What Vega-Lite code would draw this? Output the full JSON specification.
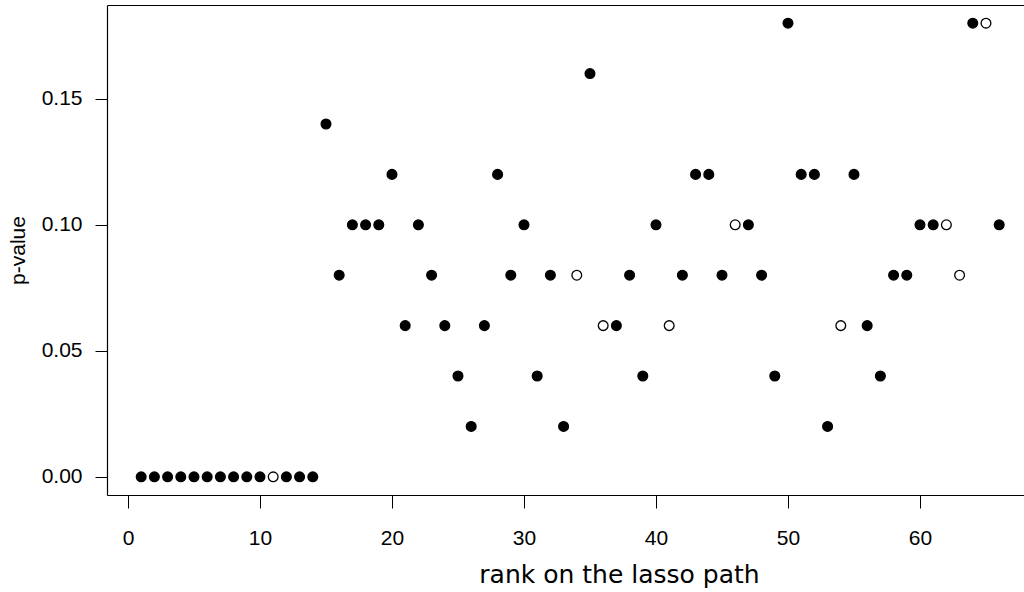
{
  "$schema": "https://vega.github.io/schema/vega-lite/v6.json",
  "width": 917,
  "height": 490,
  "autosize": "none",
  "padding": {"left": 107, "top": 5, "right": 0, "bottom": 97},
  "background": "white",
  "config": {"view": {"stroke": null}},
  "data": {"values": [
    {"rank": 1, "pvalue": 0, "type": "filled"},
    {"rank": 2, "pvalue": 0, "type": "filled"},
    {"rank": 3, "pvalue": 0, "type": "filled"},
    {"rank": 4, "pvalue": 0, "type": "filled"},
    {"rank": 5, "pvalue": 0, "type": "filled"},
    {"rank": 6, "pvalue": 0, "type": "filled"},
    {"rank": 7, "pvalue": 0, "type": "filled"},
    {"rank": 8, "pvalue": 0, "type": "filled"},
    {"rank": 9, "pvalue": 0, "type": "filled"},
    {"rank": 10, "pvalue": 0, "type": "filled"},
    {"rank": 11, "pvalue": 0, "type": "open"},
    {"rank": 12, "pvalue": 0, "type": "filled"},
    {"rank": 13, "pvalue": 0, "type": "filled"},
    {"rank": 14, "pvalue": 0, "type": "filled"},
    {"rank": 15, "pvalue": 0.14, "type": "filled"},
    {"rank": 16, "pvalue": 0.08, "type": "filled"},
    {"rank": 17, "pvalue": 0.10, "type": "filled"},
    {"rank": 18, "pvalue": 0.10, "type": "filled"},
    {"rank": 19, "pvalue": 0.10, "type": "filled"},
    {"rank": 20, "pvalue": 0.12, "type": "filled"},
    {"rank": 21, "pvalue": 0.06, "type": "filled"},
    {"rank": 22, "pvalue": 0.10, "type": "filled"},
    {"rank": 23, "pvalue": 0.08, "type": "filled"},
    {"rank": 24, "pvalue": 0.06, "type": "filled"},
    {"rank": 25, "pvalue": 0.04, "type": "filled"},
    {"rank": 26, "pvalue": 0.02, "type": "filled"},
    {"rank": 27, "pvalue": 0.06, "type": "filled"},
    {"rank": 28, "pvalue": 0.12, "type": "filled"},
    {"rank": 29, "pvalue": 0.08, "type": "filled"},
    {"rank": 30, "pvalue": 0.10, "type": "filled"},
    {"rank": 31, "pvalue": 0.04, "type": "filled"},
    {"rank": 32, "pvalue": 0.08, "type": "filled"},
    {"rank": 33, "pvalue": 0.02, "type": "filled"},
    {"rank": 34, "pvalue": 0.08, "type": "open"},
    {"rank": 35, "pvalue": 0.16, "type": "filled"},
    {"rank": 36, "pvalue": 0.06, "type": "open"},
    {"rank": 37, "pvalue": 0.06, "type": "filled"},
    {"rank": 38, "pvalue": 0.08, "type": "filled"},
    {"rank": 39, "pvalue": 0.04, "type": "filled"},
    {"rank": 40, "pvalue": 0.10, "type": "filled"},
    {"rank": 41, "pvalue": 0.06, "type": "open"},
    {"rank": 42, "pvalue": 0.08, "type": "filled"},
    {"rank": 43, "pvalue": 0.12, "type": "filled"},
    {"rank": 44, "pvalue": 0.12, "type": "filled"},
    {"rank": 45, "pvalue": 0.08, "type": "filled"},
    {"rank": 46, "pvalue": 0.10, "type": "open"},
    {"rank": 47, "pvalue": 0.10, "type": "filled"},
    {"rank": 48, "pvalue": 0.08, "type": "filled"},
    {"rank": 49, "pvalue": 0.04, "type": "filled"},
    {"rank": 50, "pvalue": 0.18, "type": "filled"},
    {"rank": 51, "pvalue": 0.12, "type": "filled"},
    {"rank": 52, "pvalue": 0.12, "type": "filled"},
    {"rank": 53, "pvalue": 0.02, "type": "filled"},
    {"rank": 54, "pvalue": 0.06, "type": "open"},
    {"rank": 55, "pvalue": 0.12, "type": "filled"},
    {"rank": 56, "pvalue": 0.06, "type": "filled"},
    {"rank": 57, "pvalue": 0.04, "type": "filled"},
    {"rank": 58, "pvalue": 0.08, "type": "filled"},
    {"rank": 59, "pvalue": 0.08, "type": "filled"},
    {"rank": 60, "pvalue": 0.10, "type": "filled"},
    {"rank": 61, "pvalue": 0.10, "type": "filled"},
    {"rank": 62, "pvalue": 0.10, "type": "open"},
    {"rank": 63, "pvalue": 0.08, "type": "open"},
    {"rank": 64, "pvalue": 0.18, "type": "filled"},
    {"rank": 65, "pvalue": 0.18, "type": "open"},
    {"rank": 66, "pvalue": 0.10, "type": "filled"}
  ]},
  "layer": [
    {
      "mark": {"type": "point", "shape": "circle", "filled": true, "stroke": "black", "strokeWidth": 1.3, "size": 95, "opacity": 1},
      "encoding": {
        "x": {
          "field": "rank", "type": "quantitative",
          "scale": {"domain": [-1.59, 67.88], "nice": false, "zero": false},
          "axis": {
            "orient": "bottom", "values": [0, 10, 20, 30, 40, 50, 60], "format": "d",
            "grid": false, "domain": true, "domainColor": "black", "domainWidth": 1.2,
            "ticks": true, "tickColor": "black", "tickSize": 13, "tickWidth": 1,
            "labelFont": "Liberation Sans", "labelFontSize": 21, "labelColor": "black", "labelPadding": 19,
            "labelFlush": false, "labelOverlap": false,
            "title": "rank on the lasso path", "titleFont": "DejaVu Sans", "titleFontSize": 25,
            "titleFontWeight": "normal", "titleColor": "black",
            "titleX": 512, "titleY": 87, "titleAlign": "center", "titleBaseline": "alphabetic"
          }
        },
        "y": {
          "field": "pvalue", "type": "quantitative",
          "scale": {"domain": [-0.0072, 0.1872], "nice": false, "zero": false},
          "axis": {
            "values": [0, 0.05, 0.1, 0.15], "format": ".2f",
            "grid": false, "domain": true, "domainColor": "black", "domainWidth": 1.2,
            "ticks": true, "tickColor": "black", "tickSize": 12, "tickWidth": 1,
            "labelFont": "Liberation Sans", "labelFontSize": 21, "labelColor": "black", "labelPadding": 13,
            "labelFlush": false, "labelOverlap": false, "labelAngle": 0,
            "title": "p-value", "titleFont": "Liberation Sans", "titleFontSize": 21,
            "titleFontWeight": "normal", "titleColor": "black", "titleAngle": -90,
            "titleX": -89, "titleY": 245, "titleAlign": "center", "titleBaseline": "middle"
          }
        },
        "fill": {
          "field": "type", "type": "nominal",
          "scale": {"domain": ["filled", "open"], "range": ["black", "white"]},
          "legend": null
        }
      }
    },
    {
      "mark": {"type": "point", "opacity": 0},
      "encoding": {
        "x": {
          "field": "rank", "type": "quantitative",
          "axis": {"orient": "top", "domain": true, "domainColor": "black", "domainWidth": 1.2,
                   "ticks": false, "labels": false, "grid": false, "title": null}
        },
        "y": {"field": "pvalue", "type": "quantitative"}
      }
    }
  ],
  "resolve": {"axis": {"x": "independent"}}
}
